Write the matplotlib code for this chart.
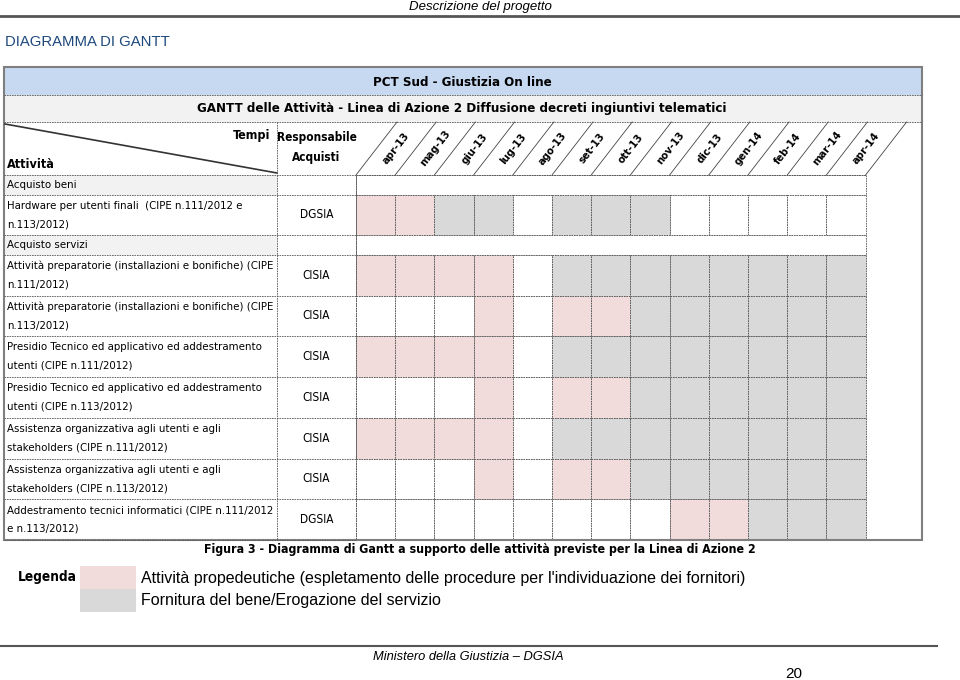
import matplotlib.pyplot as plt
from matplotlib.patches import Rectangle

# ----------------------------------------------------------------
# data
# ----------------------------------------------------------------
months = ['apr-13', 'mag-13', 'giu-13', 'lug-13', 'ago-13', 'set-13', 'ott-13',
          'nov-13', 'dic-13', 'gen-14', 'feb-14', 'mar-14', 'apr-14']

activities = [
    'Acquisto beni',
    'Hardware per utenti finali  (CIPE n.111/2012 e\nn.113/2012)',
    'Acquisto servizi',
    'Attività preparatorie (installazioni e bonifiche) (CIPE\nn.111/2012)',
    'Attività preparatorie (installazioni e bonifiche) (CIPE\nn.113/2012)',
    'Presidio Tecnico ed applicativo ed addestramento\nutenti (CIPE n.111/2012)',
    'Presidio Tecnico ed applicativo ed addestramento\nutenti (CIPE n.113/2012)',
    'Assistenza organizzativa agli utenti e agli\nstakeholders (CIPE n.111/2012)',
    'Assistenza organizzativa agli utenti e agli\nstakeholders (CIPE n.113/2012)',
    'Addestramento tecnici informatici (CIPE n.111/2012\ne n.113/2012)',
]
responsabili = ['', 'DGSIA', '', 'CISIA', 'CISIA', 'CISIA', 'CISIA', 'CISIA', 'CISIA', 'DGSIA']

# P = attività propedeutiche, G = fornitura/erogazione, W = nessuna
piano = [
    None,
    'PPGGWGGGWWWWW',
    None,
    'PPPPWGGGGGGGG',
    'WWWPWPPGGGGGG',
    'PPPPWGGGGGGGG',
    'WWWPWPPGGGGGG',
    'PPPPWGGGGGGGG',
    'WWWPWPPGGGGGG',
    'WWWWWWWWPPGGG',
]

legenda = ["Attività propedeutiche (espletamento delle procedure per l'individuazione dei fornitori)",
           'Fornitura del bene/Erogazione del servizio']

PINK = '#f2dcdb'
GRAY = '#d9d9d9'
colori = {'P': PINK, 'G': GRAY, 'W': 'white'}

NARROW = dict(family='DejaVu Sans', fontstretch='condensed')
ARIAL = ['Liberation Sans', 'DejaVu Sans']
GRID = dict(color='#555555', lw=0.6, ls=(0, (2, 1)))

fig = plt.figure(figsize=(9.6, 6.8), dpi=100)
ax = fig.add_axes([0, 0, 1, 1])
ax.set_xlim(0, 960)
ax.set_ylim(680, 0)
ax.axis('off')

# page header
ax.text(552, 7, 'Descrizione del progetto', ha='right', va='center', style='italic',
        family=ARIAL, fontsize=9.5)
ax.plot([0, 960], [16, 16], color='#555555', lw=2)
ax.text(5, 42, 'DIAGRAMMA DI GANTT', ha='left', va='center', color='#1f497d',
        family=ARIAL, fontsize=10.7)

# table layout
xa, xr, xm = 4, 277, 356
cw = 39.2
xe = xm + cw * len(months)
xb = 922
y0, y1, y2, yh = 67, 95, 122, 175
hs, hd = 19.5, 40.75

ax.add_patch(Rectangle((xa, y0), xb - xa, y1 - y0, facecolor='#c6d9f1', edgecolor='none'))
ax.add_patch(Rectangle((xa, y1), xb - xa, y2 - y1, facecolor='#f2f2f2', edgecolor='none'))
ax.plot([xa, xb], [y1, y1], **GRID)
ax.plot([xa, xb], [y2, y2], **GRID)
ax.text(462, 82, 'PCT Sud - Giustizia On line', ha='center', va='center',
        fontweight='bold', fontsize=9.5, **NARROW)
ax.text(462, 108.5, 'GANTT delle Attività - Linea di Azione 2 Diffusione decreti ingiuntivi telematici',
        ha='center', va='center', fontweight='bold', fontsize=9.5, **NARROW)

# header cells
ax.plot([xa + 1, xr], [124, 173], color='#333333', lw=1.2)
ax.text(270, 135, 'Tempi', ha='right', va='center', fontweight='bold', fontsize=9, **NARROW)
ax.text(7, 164, 'Attività', ha='left', va='center', fontweight='bold', fontsize=9, **NARROW)
ax.plot([xr, xr], [y2, yh], **GRID)
ax.text((xr + xm) / 2, 138, 'Responsabile', ha='center', va='center', fontweight='bold',
        fontsize=8.5, **NARROW)
ax.text((xr + xm) / 2, 158, 'Acquisti', ha='center', va='center', fontweight='bold',
        fontsize=8.5, **NARROW)
dx = 41
for i in range(len(months) + 1):
    xs = xm + i * cw
    ax.plot([xs, xs + dx], [yh, y2], color='#444444', lw=0.6)
for i, m in enumerate(months):
    ax.text(xm + (i + 0.5) * cw + dx / 2, (y2 + yh) / 2, m, rotation=52, ha='center', va='center',
            fontweight='bold', fontsize=8, **NARROW)
ax.plot([xa, xe], [yh, yh], **GRID)

# rows
y = yh
for label, resp, plan in zip(activities, responsabili, piano):
    h = hs if plan is None else hd
    if plan is None:
        ax.add_patch(Rectangle((xa, y), xr - xa, h, facecolor='#f2f2f2', edgecolor='none'))
        ax.add_patch(Rectangle((xm, y), xe - xm, h, facecolor='white', edgecolor='#555555',
                               lw=0.6, ls=(0, (2, 1))))
    else:
        centers = [xm + (i + 0.5) * cw for i in range(len(plan))]
        ax.bar(centers, [h] * len(plan), bottom=y, width=cw,
               color=[colori[c] for c in plan], edgecolor='#555555', linewidth=0.6,
               linestyle=(0, (2, 1)))
    ax.text(7, y + h / 2, label, ha='left', va='center', fontsize=8.2,
            linespacing=2.05, **NARROW)
    if resp:
        ax.text((xr + xm) / 2, y + h / 2, resp, ha='center', va='center', fontsize=8.5, **NARROW)
    ax.plot([xa, xm], [y + h, y + h], **GRID)
    y += h
ax.plot([xr, xr], [yh, y], **GRID)
ax.plot([xm, xm], [yh, y], **GRID)

# outer frame
ax.add_patch(Rectangle((xa, y0), xb - xa, y - y0, facecolor='none', edgecolor='#7f7f7f', lw=1.5))

# caption
ax.text(480, 549, 'Figura 3 - Diagramma di Gantt a supporto delle attività previste per la Linea di Azione 2',
        ha='center', va='center', fontweight='bold', fontsize=8.9, **NARROW)

# legend
ax.text(18, 577, 'Legenda', ha='left', va='center', fontweight='bold', fontsize=9.8, **NARROW)
for k, (voce, col) in enumerate(zip(legenda, [PINK, GRAY])):
    ax.add_patch(Rectangle((80, 566 + 23 * k), 56, 23, facecolor=col, edgecolor='none'))
    ax.text(141, 578 + 22 * k, voce, ha='left', va='center', family=ARIAL, fontsize=11.5)

# footer
ax.plot([0, 937], [646, 646], color='#555555', lw=1.5)
ax.text(468, 657, 'Ministero della Giustizia – DGSIA', ha='center', va='center',
        style='italic', family=ARIAL, fontsize=9.3)
ax.text(794, 674, '20', ha='center', va='center', family=ARIAL, fontsize=11)

fig.savefig('out.png', dpi=100)
